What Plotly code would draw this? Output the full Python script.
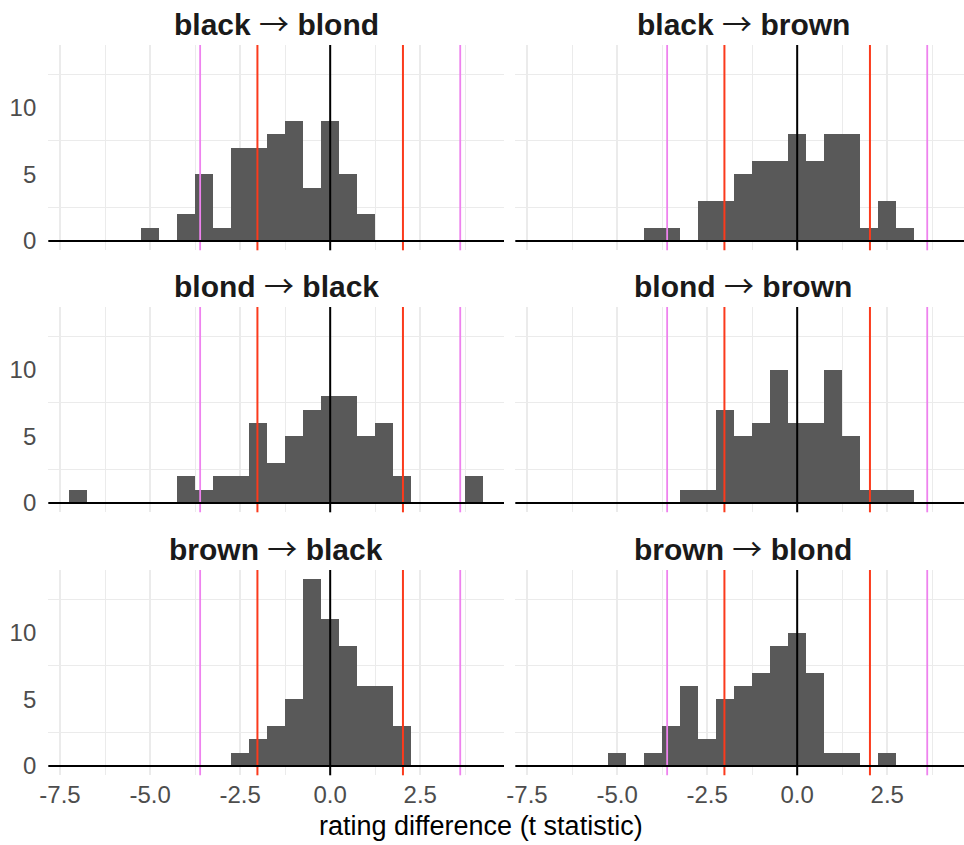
import plotly.graph_objects as go

# ---- data (bin centres, bin width 0.5; counts) ----
panel_from = ["black", "black", "blond", "blond", "brown", "brown"]
panel_to = ["blond", "brown", "black", "brown", "black", "blond"]

black_blond_x = [-5, -4, -3.5, -3, -2.5, -2, -1.5, -1, -0.5, 0, 0.5, 1]
black_blond_n = [1, 2, 5, 1, 7, 7, 8, 9, 4, 9, 5, 2]

black_brown_x = [-4, -3.5, -2.5, -2, -1.5, -1, -0.5, 0, 0.5, 1, 1.5, 2, 2.5, 3]
black_brown_n = [1, 1, 3, 3, 5, 6, 6, 8, 6, 8, 8, 1, 3, 1]

blond_black_x = [-7, -4, -3.5, -3, -2.5, -2, -1.5, -1, -0.5, 0, 0.5, 1, 1.5, 2, 4]
blond_black_n = [1, 2, 1, 2, 2, 6, 3, 5, 7, 8, 8, 5, 6, 2, 2]

blond_brown_x = [-3, -2.5, -2, -1.5, -1, -0.5, 0, 0.5, 1, 1.5, 2, 2.5, 3]
blond_brown_n = [1, 1, 7, 5, 6, 10, 6, 6, 10, 5, 1, 1, 1]

brown_black_x = [-2.5, -2, -1.5, -1, -0.5, 0, 0.5, 1, 1.5, 2]
brown_black_n = [1, 2, 3, 5, 14, 11, 9, 6, 6, 3]

brown_blond_x = [-5, -4, -3.5, -3, -2.5, -2, -1.5, -1, -0.5, 0, 0.5, 1, 1.5, 2.5]
brown_blond_n = [1, 1, 3, 6, 2, 5, 6, 7, 9, 10, 7, 1, 1, 1]

bin_width = 0.5
crit_red = 2.02
crit_violet = 3.61

x_ticks = [-7.5, -5.0, -2.5, 0.0, 2.5]
x_tick_labels = ["-7.5", "-5.0", "-2.5", "0.0", "2.5"]
x_minor = [-6.25, -3.75, -1.25, 1.25, 3.75]
y_ticks = [0, 5, 10]
y_tick_labels = ["0", "5", "10"]
y_minor = [2.5, 7.5, 12.5]

series = [(black_blond_x, black_blond_n), (black_brown_x, black_brown_n),
          (blond_black_x, blond_black_n), (blond_brown_x, blond_brown_n),
          (brown_black_x, brown_black_n), (brown_blond_x, brown_blond_n)]

# ---- layout geometry (pixels) ----
W, H = 964, 845
col_px = [(48.3, 504.0), (515.3, 964.0)]
row_px = [(45.0, 250.3), (307.0, 512.3), (570.0, 775.3)]
x_range_full = [-7.825, 4.825]
px_per_unit = (col_px[0][1] - col_px[0][0]) / (x_range_full[1] - x_range_full[0])
y_range = [-0.7, 14.7]

GRID = "#ebebeb"
FONT = "Liberation Sans, Arial, sans-serif"
ARROW = '<span style="font-family:Noto Sans CJK SC;font-weight:normal">→</span>'

fig = go.Figure()
layout = dict(width=W, height=H, margin=dict(l=0, r=0, t=0, b=0, autoexpand=False),
              paper_bgcolor="white", plot_bgcolor="white", showlegend=False,
              bargap=0, shapes=[], annotations=[])

for i, (xs, ns) in enumerate(series):
    r, c = divmod(i, 2)
    k = i + 1
    xa = "x" if k == 1 else f"x{k}"
    ya = "y" if k == 1 else f"y{k}"
    fig.add_trace(go.Bar(x=xs, y=ns, width=bin_width, marker_color="#595959",
                         marker_line_width=0, xaxis=xa, yaxis=ya,
                         hoverinfo="x+y"))
    x0p, x1p = col_px[c]
    y0p, y1p = row_px[r]
    xr = [x_range_full[0], x_range_full[0] + (x1p - x0p) / px_per_unit]
    layout[f"xaxis{'' if k == 1 else k}"] = dict(
        domain=[x0p / W, x1p / W], range=xr, anchor=ya, automargin=False,
        tickvals=x_ticks, ticktext=x_tick_labels,
        showticklabels=(r == 2), ticks="", ticklabelstandoff=3,
        tickfont=dict(family=FONT, size=24, color="#4d4d4d"),
        showgrid=True, gridcolor=GRID, gridwidth=1.6, zeroline=False,
        showline=False,
        minor=dict(tickvals=x_minor, showgrid=True, gridcolor=GRID, gridwidth=1.2),
    )
    layout[f"yaxis{'' if k == 1 else k}"] = dict(
        domain=[1 - y1p / H, 1 - y0p / H], range=y_range, anchor=xa, automargin=False,
        tickvals=y_ticks, ticktext=y_tick_labels,
        showticklabels=(c == 0), ticks="", ticklabelstandoff=11,
        tickfont=dict(family=FONT, size=24, color="#4d4d4d"),
        showgrid=False, zeroline=False, showline=False,
        minor=dict(tickvals=y_minor, showgrid=True, gridcolor=GRID, gridwidth=1.2),
    )
    # reference lines
    for xv, col, wd in [(-crit_violet, "#ee82ee", 1.8), (crit_violet, "#ee82ee", 1.8),
                        (-crit_red, "#fb3a1c", 2.0), (crit_red, "#fb3a1c", 2.0),
                        (0, "black", 2.0)]:
        layout["shapes"].append(dict(type="line", xref=xa, yref=f"{ya} domain",
                                     x0=xv, x1=xv, y0=0, y1=1, layer="above",
                                     line=dict(color=col, width=wd)))
    layout["shapes"].append(dict(type="line", xref=f"{xa} domain", yref=ya,
                                 x0=0, x1=1, y0=0, y1=0, layer="above",
                                 line=dict(color="black", width=2.0)))
    # facet title
    title = f"<b>{panel_from[i]}</b> {ARROW} <b>{panel_to[i]}</b>"
    cx = (x0p + x1p) / 2 if c == 0 else (515.3 + 971.0) / 2
    layout["annotations"].append(dict(
        text=title, x=cx / W, height=40, valign="middle",
        y=1 - (y0p - 23) / H, xref="paper", yref="paper",
        xanchor="center", yanchor="middle", showarrow=False,
        font=dict(family=FONT, size=30, color="#1a1a1a")))

layout["annotations"].append(dict(
    text="rating difference (t statistic)", x=481 / W, y=1 - 826 / H,
    xref="paper", yref="paper", xanchor="center", yanchor="middle",
    showarrow=False, font=dict(family=FONT, size=27, color="black")))

fig.update_layout(**layout)
fig.write_html("out.html")
